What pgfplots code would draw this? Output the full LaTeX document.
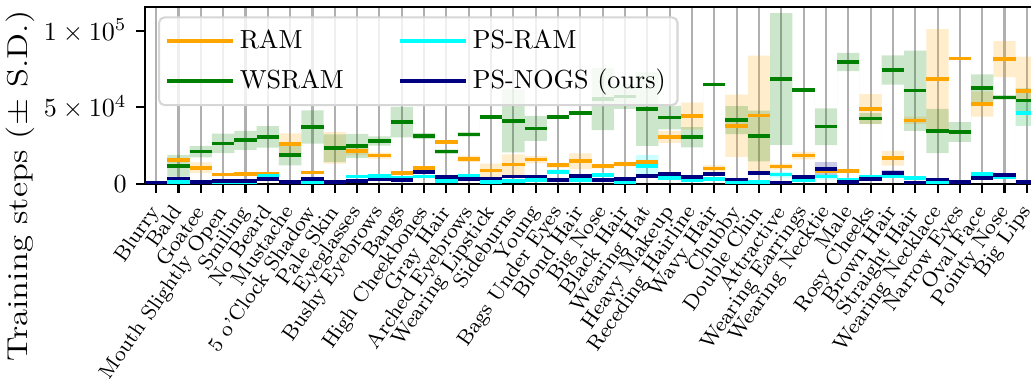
\documentclass[border=0pt]{standalone}
\usepackage{graphicx}
\usepackage{pgfplots}
\pgfplotsset{compat=1.18}
\usepackage{pgfplotstable}
\usepgfplotslibrary{fillbetween}
\definecolor{ramc}{HTML}{FFA500}
\definecolor{wsc}{HTML}{008000}
\definecolor{psc}{HTML}{00FFFF}
\definecolor{ngc}{HTML}{000080}
\definecolor{gridc}{HTML}{B0B0B0}
\definecolor{legc}{HTML}{D6D6D6}
\pgfplotstableread{
x ram ramsd ws wssd ps pssd ng ngsd
-0.5 600 300 600 300 400 300 800 300
0.5 15500 1500 11900 7100 1300 800 3500 1200
1.5 10600 3500 21100 3700 800 500 1500 500
2.5 6100 1000 26500 6300 1000 500 2000 600
3.5 6300 1000 28500 6200 1500 500 2000 600
4.5 6500 1000 30700 7000 5400 2000 3300 1000
5.5 26300 6700 19100 6900 500 300 1200 500
6.5 7600 1000 37200 10800 1300 500 3300 1000
7.5 23600 10300 23300 9000 500 300 1500 500
8.5 21500 2800 24800 7900 4800 1000 2000 600
9.5 18500 2000 28000 3000 5200 1000 3000 800
10.5 7200 1000 40400 10000 3700 800 2400 600
11.5 10600 1000 31300 2000 4800 1000 8000 1000
12.5 27600 1000 21100 1500 2000 500 4400 1000
13.5 16500 2000 32400 1500 5400 1000 3300 800
14.5 8900 4400 43700 1000 1300 500 3500 800
15.5 12600 6800 41100 20400 2000 600 4800 1000
16.5 15900 2500 36300 8200 2600 600 4800 1000
17.5 12200 1500 43900 1000 8000 1500 2600 600
18.5 14800 5100 46300 1000 2600 600 5200 1000
19.5 11700 1500 55400 20300 5900 1000 2400 600
20.5 13000 1500 57000 8000 1200 500 3300 800
21.5 14200 1500 48900 24000 11900 7000 5400 1000
22.5 30700 3800 43300 7600 3700 800 6300 1000
23.5 44400 8700 30500 6600 2600 600 4400 1000
24.5 10200 2000 65000 1000 3300 800 6700 1000
25.5 38000 20300 41700 9100 1000 500 3000 800
26.5 44800 39000 31300 16500 1300 500 7200 1000
27.5 11300 2000 68500 43000 6100 2000 900 500
28.5 18500 2500 61300 1000 2600 600 4600 1000
29.5 8500 1000 37400 12000 4800 2000 9600 4700
30.5 8300 1000 79600 6000 2600 600 1100 500
31.5 48900 9800 42800 3500 4800 1000 3300 800
32.5 16800 4800 74400 9600 5400 1000 7000 2000
33.5 41500 2500 60900 26200 4100 1000 900 500
34.5 68500 32600 34600 14400 1200 500 3000 800
35.5 82000 1000 33900 6500 700 400 1500 500
36.5 52200 8250 62600 9000 6300 1500 3700 1000
37.5 81500 11700 56500 1500 4600 1000 5900 1000
38.5 60500 22600 54400 8000 46500 8500 1500 500
39.5 60500 22600 54400 8000 46500 8500 1500 500
}\data
\begin{document}
\begin{tikzpicture}
\begin{axis}[
  scale only axis, width=342.1pt, height=67.8pt,
  xmin=-0.5, xmax=39.5, ymin=0, ymax=115500,
  xtick={0,...,39},
  xticklabels={Blurry,Bald,Goatee,Mouth Slightly Open,Smiling,No Beard,Mustache,5 o'Clock Shadow,Pale Skin,Eyeglasses,Bushy Eyebrows,Bangs,High Cheekbones,Gray Hair,Arched Eyebrows,Wearing Lipstick,Sideburns,Young,Bags Under Eyes,Blond Hair,Big Nose,Black Hair,Wearing Hat,Heavy Makeup,Receding Hairline,Wavy Hair,Chubby,Double Chin,Attractive,Wearing Earrings,Wearing Necktie,Male,Rosy Cheeks,Brown Hair,Straight Hair,Wearing Necklace,Narrow Eyes,Oval Face,Pointy Nose,Big Lips},
  ytick={0,50000,100000},
  yticklabels={$0$,$5\times10^{4}$,$1\times10^{5}$},
  scaled y ticks=false,
  tick align=outside, major tick length=3.5pt,
  xtick pos=lower, ytick pos=left,
  tick style={black, line width=0.8pt},
  axis line style={line width=0.8pt},
  xmajorgrids, major x grid style={color=gridc, line width=0.8pt},
  xticklabel style={font=\footnotesize, xshift=-2.9pt, yshift=-3.7pt, rotate=55, anchor=north east, inner sep=0pt},
  yticklabel style={font=\normalsize},
  legend columns=2, transpose legend,
  legend style={at={(rel axis cs:0,1)}, anchor=north west, xshift=5pt, yshift=-3.6pt,
    draw=legc, line width=0.8pt, rounded corners=2pt, fill=white, fill opacity=0.8, draw opacity=1, text opacity=1,
    font=\normalsize, inner xsep=2.5pt, inner ysep=2.8pt, row sep=2.3pt,
    /tikz/every even column/.append style={column sep=19pt}},
  legend cell align=left,
  legend image code/.code={\draw[#1, line width=1.4pt] (0pt,0pt) -- (20pt,0pt); \path (0pt,0pt) -- (25pt,0pt);},
]
% boxes
\addplot[name path=ramU, draw=none, const plot mark left, forget plot] table[x=x, y expr=\thisrow{ram}+\thisrow{ramsd}] {\data};
\addplot[name path=ramL, draw=none, const plot mark left, forget plot] table[x=x, y expr=\thisrow{ram}-\thisrow{ramsd}] {\data};
\addplot[fill=ramc, fill opacity=0.2, draw=none, forget plot] fill between[of=ramU and ramL];
\addplot[name path=wsU, draw=none, const plot mark left, forget plot] table[x=x, y expr=\thisrow{ws}+\thisrow{wssd}] {\data};
\addplot[name path=wsL, draw=none, const plot mark left, forget plot] table[x=x, y expr=\thisrow{ws}-\thisrow{wssd}] {\data};
\addplot[fill=wsc, fill opacity=0.2, draw=none, forget plot] fill between[of=wsU and wsL];
\addplot[name path=psU, draw=none, const plot mark left, forget plot] table[x=x, y expr=\thisrow{ps}+\thisrow{pssd}] {\data};
\addplot[name path=psL, draw=none, const plot mark left, forget plot] table[x=x, y expr=\thisrow{ps}-\thisrow{pssd}] {\data};
\addplot[fill=psc, fill opacity=0.2, draw=none, forget plot] fill between[of=psU and psL];
\addplot[name path=ngU, draw=none, const plot mark left, forget plot] table[x=x, y expr=\thisrow{ng}+\thisrow{ngsd}] {\data};
\addplot[name path=ngL, draw=none, const plot mark left, forget plot] table[x=x, y expr=\thisrow{ng}-\thisrow{ngsd}] {\data};
\addplot[fill=ngc, fill opacity=0.2, draw=none, forget plot] fill between[of=ngU and ngL];
% means
\addplot[ramc, line width=1.4pt, jump mark left] table[x=x, y=ram] {\data};
\addlegendentry{RAM}
\addplot[wsc, line width=1.4pt, jump mark left] table[x=x, y=ws] {\data};
\addlegendentry{WSRAM}
\addplot[psc, line width=1.4pt, jump mark left] table[x=x, y=ps] {\data};
\addlegendentry{PS-RAM}
\addplot[ngc, line width=1.4pt, jump mark left] table[x=x, y=ng] {\data};
\addlegendentry{PS-NOGS (ours)}
\end{axis}
\node[rotate=90, anchor=west, inner sep=0pt, font=\fontsize{11}{13}\selectfont] at ([xshift=-47.9pt, yshift=-68.2pt]current axis.south west) {\scalebox{1.21}[1]{Training steps ($\pm$ S.D.)}};
\pgfresetboundingbox
\path[use as bounding box] ([xshift=-55.56pt, yshift=-74.7pt]current axis.south west) rectangle ([xshift=-2.68pt, yshift=2.68pt]current axis.north east);
\end{tikzpicture}
\end{document}
